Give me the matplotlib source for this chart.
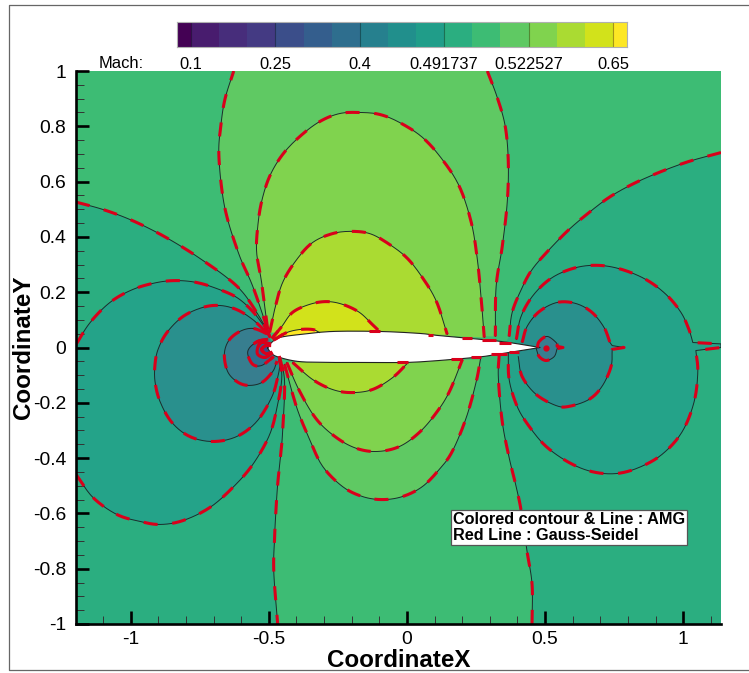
import numpy as np
import matplotlib
matplotlib.use('Agg')
import matplotlib.pyplot as plt
from matplotlib.colors import ListedColormap
from matplotlib.lines import Line2D

plt.rcParams['font.family'] = ['Liberation Sans', 'DejaVu Sans']

# colorbar
band_colors = ['#440154', '#481c6e', '#472d7b', '#443a83', '#3b4e8a', '#345e8d', '#2e6e8e', '#26808e',
               '#218f8c', '#209d89', '#2bae80', '#3dbc74', '#5fc963', '#80d34e', '#aadb32', '#d2e21b', '#fde725']
band_edges = [0, 0.5, 1.5, 2.5, 3.5, 4.5, 5.5, 6.5, 7.5, 8.5, 9.5, 10.5, 11.5, 12.5, 13.5, 14.5, 15.5, 16]
bar_ticks = [0.5, 3.5, 6.5, 9.5, 12.5, 15.5]
bar_labels = ['0.1', '0.25', '0.4', '0.491737', '0.522527', '0.65']

# ticks
x_major = [-1, -0.5, 0, 0.5, 1]
x_labels = ['-1', '-0.5', '0', '0.5', '1']
y_major = [-1, -0.8, -0.6, -0.4, -0.2, 0, 0.2, 0.4, 0.6, 0.8, 1]
y_labels = ['-1', '-0.8', '-0.6', '-0.4', '-0.2', '0', '0.2', '0.4', '0.6', '0.8', '1']

# airfoil surface
foil_up_x = [-0.504, -0.490, -0.461, -0.388, -0.269, -0.099, 0.045, 0.117, 0.273, 0.370, 0.482]
foil_up_y = [-0.002, 0.018, 0.036, 0.047, 0.058, 0.058, 0.051, 0.043, 0.029, 0.018, 0.0]
foil_lo_x = [0.482, 0.370, 0.273, 0.117, -0.002, -0.146, -0.269, -0.388, -0.461, -0.490, -0.504]
foil_lo_y = [0.0, -0.018, -0.033, -0.047, -0.054, -0.054, -0.054, -0.051, -0.036, -0.022, -0.002]

# left side contours
c1_x = [-1.198, -1.100, -1.003, -0.905, -0.811, -0.739, -0.652, -0.594, -0.544, -0.508, -0.497]
c1_y = [0.526, 0.499, 0.463, 0.416, 0.362, 0.315, 0.253, 0.199, 0.127, 0.065, 0.040]
bl_x = [-0.461, -0.443, -0.450, -0.457, -0.468, -0.475, -0.479, -0.482, -0.468]
bl_y = [-0.036, -0.123, -0.304, -0.387, -0.496, -0.604, -0.687, -0.810, -1.0]
c2_up_x = [-1.198, -1.147, -1.075, -0.992, -0.905, -0.833, -0.761, -0.688, -0.616, -0.558, -0.508]
c2_up_y = [0.011, 0.090, 0.163, 0.210, 0.235, 0.242, 0.235, 0.213, 0.181, 0.130, 0.065]
c2_lo_x = [-1.198, -1.136, -1.050, -0.966, -0.894, -0.811, -0.714, -0.630, -0.558, -0.497, -0.468, -0.453, -0.461]
c2_lo_y = [-0.459, -0.543, -0.604, -0.629, -0.640, -0.626, -0.579, -0.506, -0.423, -0.315, -0.206, -0.109, -0.043]
c3_x = [-0.508, -0.558, -0.616, -0.677, -0.739, -0.811, -0.869, -0.901, -0.912, -0.912, -0.894, -0.851,
        -0.786, -0.703, -0.616, -0.544, -0.490, -0.468, -0.457]
c3_y = [0.054, 0.101, 0.137, 0.152, 0.145, 0.112, 0.054, -0.007, -0.061, -0.123, -0.195, -0.271,
        -0.322, -0.340, -0.322, -0.268, -0.181, -0.109, -0.051]
c4_x = [-0.508, -0.558, -0.605, -0.645, -0.661, -0.649, -0.616, -0.576, -0.526, -0.486, -0.472]
c4_y = [0.051, 0.069, 0.058, 0.025, -0.025, -0.087, -0.123, -0.137, -0.127, -0.087, -0.054]
c5_x = [-0.508, -0.540, -0.569, -0.576, -0.558, -0.526, -0.486]
c5_y = [0.029, 0.022, 0.0, -0.025, -0.061, -0.065, -0.036]
c6_x = [-0.497, -0.526, -0.540, -0.540, -0.515, -0.490]
c6_y = [0.014, 0.018, 0.0, -0.025, -0.036, -0.022]
c7_x = [-0.497, -0.511, -0.526, -0.511, -0.493]
c7_y = [0.007, 0.007, -0.007, -0.022, -0.018]

# upper lobes
u1_x = [-0.479, -0.435, -0.388, -0.341, -0.316]
u1_y = [0.029, 0.054, 0.065, 0.065, 0.054]
u2_x = [-0.486, -0.453, -0.414, -0.352, -0.291, -0.233, -0.172, -0.125, -0.099]
u2_y = [0.036, 0.076, 0.127, 0.156, 0.166, 0.156, 0.127, 0.083, 0.058]
u3_x = [-0.497, -0.479, -0.450, -0.399, -0.341, -0.269, -0.201, -0.135, -0.074, -0.002, 0.056, 0.107, 0.146]
u3_y = [0.054, 0.137, 0.235, 0.318, 0.380, 0.412, 0.420, 0.412, 0.380, 0.326, 0.253, 0.166, 0.047]
u4_x = [-0.504, -0.526, -0.544, -0.540, -0.526, -0.497, -0.450, -0.388, -0.316, -0.244, -0.172, -0.099,
        -0.027, 0.056, 0.128, 0.190, 0.233, 0.255, 0.269, 0.280]
u4_y = [0.065, 0.235, 0.344, 0.438, 0.528, 0.619, 0.698, 0.763, 0.817, 0.846, 0.850, 0.843,
        0.814, 0.760, 0.680, 0.582, 0.452, 0.318, 0.174, 0.036]
u5_left_x = [-0.504, -0.558, -0.605, -0.649, -0.670, -0.681, -0.674, -0.659, -0.627]
u5_left_y = [0.065, 0.221, 0.329, 0.463, 0.571, 0.705, 0.799, 0.897, 1.0]
u5_right_x = [0.291, 0.327, 0.356, 0.367, 0.363, 0.345, 0.323, 0.320]
u5_right_y = [1.0, 0.904, 0.799, 0.669, 0.524, 0.365, 0.221, 0.040]

# lower lobes
l1_x = [-0.414, -0.341, -0.269, -0.201, -0.125, -0.052, 0.005]
l1_y = [-0.054, -0.116, -0.152, -0.163, -0.152, -0.109, -0.054]
l2_x = [-0.435, -0.388, -0.327, -0.255, -0.182, -0.107, -0.027, 0.045, 0.107, 0.154, 0.201]
l2_y = [-0.054, -0.159, -0.260, -0.326, -0.365, -0.376, -0.358, -0.307, -0.235, -0.159, -0.043]
l3_x = [-0.443, -0.399, -0.352, -0.305, -0.233, -0.161, -0.089, -0.016, 0.056, 0.117, 0.164, 0.215, 0.251, 0.266]
l3_y = [-0.061, -0.217, -0.333, -0.430, -0.503, -0.539, -0.550, -0.539, -0.503, -0.441, -0.376, -0.253, -0.123, -0.043]
br_x = [0.334, 0.331, 0.345, 0.370, 0.396, 0.414, 0.435, 0.453, 0.453]
br_y = [-0.025, -0.109, -0.268, -0.398, -0.506, -0.593, -0.738, -0.857, -1.0]

# right side contours
r1_x = [1.137, 1.021, 0.912, 0.815, 0.732, 0.659, 0.587, 0.515, 0.453, 0.414, 0.381, 0.370]
r1_y = [0.705, 0.673, 0.633, 0.590, 0.543, 0.488, 0.427, 0.354, 0.282, 0.210, 0.127, 0.040]
r2_up_x = [0.396, 0.413, 0.458, 0.526, 0.612, 0.696, 0.779, 0.865, 0.938, 0.992, 1.021, 1.035]
r2_up_y = [0.029, 0.112, 0.190, 0.253, 0.289, 0.297, 0.282, 0.246, 0.192, 0.127, 0.065, 0.018]
r2_tip_x = [1.035, 1.137, 1.137, 1.046]
r2_tip_y = [0.018, 0.013, 0.0, -0.011]
r2_lo_x = [1.046, 1.053, 1.039, 0.995, 0.923, 0.840, 0.757, 0.670, 0.587, 0.504, 0.443, 0.399, 0.370, 0.367]
r2_lo_y = [-0.011, -0.090, -0.199, -0.307, -0.387, -0.434, -0.456, -0.449, -0.416, -0.358, -0.286, -0.213, -0.116, -0.018]
r3_up_x = [0.417, 0.435, 0.479, 0.544, 0.612, 0.670, 0.714, 0.735]
r3_up_y = [0.018, 0.076, 0.130, 0.163, 0.159, 0.127, 0.072, 0.018]
r3_tip_x = [0.735, 0.743, 0.786, 0.743]
r3_tip_y = [0.018, 0.007, 0.0, -0.007]
r3_lo_x = [0.743, 0.739, 0.706, 0.659, 0.587, 0.540, 0.468, 0.417, 0.403]
r3_lo_y = [-0.007, -0.069, -0.141, -0.188, -0.213, -0.210, -0.170, -0.105, -0.033]
r4_up_x = [0.472, 0.479, 0.508, 0.540, 0.544]
r4_up_y = [0.0, 0.022, 0.040, 0.018, 0.004]
r4_tip_x = [0.544, 0.565, 0.544]
r4_tip_y = [0.004, 0.0, -0.004]
r4_lo_x = [0.544, 0.533, 0.504, 0.479, 0.468]
r4_lo_y = [-0.004, -0.033, -0.047, -0.033, -0.004]

# red dashes lying on the surface: x start, x end, y
surf_dash_x0 = [-0.136, 0.075, 0.201, 0.273, 0.334, -0.036, 0.161, 0.233, 0.305, 0.370]
surf_dash_x1 = [-0.099, 0.096, 0.237, 0.323, 0.378, 0.005, 0.201, 0.269, 0.363, 0.406]
surf_dash_y = [0.058, 0.047, 0.033, 0.026, 0.016, -0.054, -0.043, -0.036, -0.025, -0.016]

RED = '#d9001b'
LE_X, LE_Y = -0.49, 0.0


def smooth(x, y, n=12):
    # catmull-rom through the points
    p = np.column_stack([x, y])
    p = np.vstack([2 * p[0] - p[1], p, 2 * p[-1] - p[-2]])
    out = []
    for i in range(1, len(p) - 2):
        t = np.linspace(0, 1, n, endpoint=False)[:, None]
        a, b, c, d = p[i - 1], p[i], p[i + 1], p[i + 2]
        out.append(0.5 * (2 * b + (c - a) * t + (2 * a - 5 * b + 4 * c - d) * t ** 2
                          + (3 * b - a - 3 * c + d) * t ** 3))
    out.append(p[-2][None, :])
    return np.vstack(out)


def line(ax, pts):
    ax.plot(pts[:, 0], pts[:, 1], color='#1c2b2b', lw=0.7, zorder=5)
    ax.plot(pts[:, 0], pts[:, 1], color=RED, lw=2.2, zorder=6,
            ls=(0, (4.6, 4.8)), dash_capstyle='butt')
    # the lines crowd together at the leading edge, the dashes merge there
    near = np.hypot(pts[:, 0] - LE_X, pts[:, 1] - LE_Y) < 0.06
    ax.plot(np.where(near, pts[:, 0], np.nan), np.where(near, pts[:, 1], np.nan), color=RED, lw=2.2, zorder=6)


fig = plt.figure(figsize=(7.49, 6.73), dpi=100)
ax = fig.add_axes([76 / 749, 49 / 673, 645 / 749, 553 / 673])
ax.set_xlim(-1.198, 1.137)
ax.set_ylim(-1, 1)
ax.set_facecolor(band_colors[11])

c1 = smooth(c1_x, c1_y)
bl = smooth(bl_x, bl_y)
c2_up = smooth(c2_up_x, c2_up_y)
c2_lo = smooth(c2_lo_x, c2_lo_y)
c3 = smooth(c3_x, c3_y)
c4 = smooth(c4_x, c4_y)
c5 = smooth(c5_x, c5_y)
c6 = smooth(c6_x, c6_y)
c7 = smooth(c7_x, c7_y)
u1 = smooth(u1_x, u1_y)
u2 = smooth(u2_x, u2_y)
u3 = smooth(u3_x, u3_y)
u4 = smooth(u4_x, u4_y)
u5_l = smooth(u5_left_x, u5_left_y)
u5_r = smooth(u5_right_x, u5_right_y)
l1 = smooth(l1_x, l1_y)
l2 = smooth(l2_x, l2_y)
l3 = smooth(l3_x, l3_y)
br = smooth(br_x, br_y)
r1 = smooth(r1_x, r1_y)
r2 = np.vstack([smooth(r2_up_x, r2_up_y), np.column_stack([r2_tip_x, r2_tip_y]), smooth(r2_lo_x, r2_lo_y)])
r3 = np.vstack([smooth(r3_up_x, r3_up_y), np.column_stack([r3_tip_x, r3_tip_y]), smooth(r3_lo_x, r3_lo_y)])
r4 = np.vstack([smooth(r4_up_x, r4_up_y), np.column_stack([r4_tip_x, r4_tip_y]), smooth(r4_lo_x, r4_lo_y)])
foil = np.vstack([smooth(foil_up_x, foil_up_y), smooth(foil_lo_x, foil_lo_y)])

xl, xr = ax.get_xlim()
corners_l = np.array([[xl, -1], [xl, c1_y[0]]])
corners_r = np.array([[xr, -1], [xr, r1_y[0]]])

# filled bands, outer ones first
fills = [
    (np.vstack([c1, bl, corners_l]), '#2bae80'),
    (np.vstack([r1, br, corners_r]), '#2bae80'),
    (np.vstack([c2_up, c2_lo[::-1]]), '#24a389'),
    (c3, '#29908d'),
    (c4, '#377e8f'),
    (c5, band_colors[6]),
    (c6, band_colors[5]),
    (c7, band_colors[4]),
    (np.vstack([u5_l, u5_r]), band_colors[12]),
    (l3, band_colors[12]),
    (u4, band_colors[13]),
    (l2, band_colors[13]),
    (u3, band_colors[14]),
    (l1, band_colors[14]),
    (u2, band_colors[15]),
    (u1, band_colors[16]),
    (r2, '#24a389'),
    (r3, '#29908d'),
    (r4, '#377e8f'),
]
for pts, col in fills:
    ax.fill(pts[:, 0], pts[:, 1], color=col, lw=0, zorder=2)

ax.fill(foil[:, 0], foil[:, 1], color='white', lw=0, zorder=3)
ax.plot(foil[:, 0], foil[:, 1], color='#222222', lw=0.8, zorder=5)

for pts in [c1, bl, c2_up, c2_lo, c3, c4, c5, c6, c7, u1, u2, u3, u4, u5_l, u5_r, l1, l2, l3, br, r1, r2, r3, r4]:
    line(ax, pts)

ax.hlines(surf_dash_y, surf_dash_x0, surf_dash_x1, color=RED, lw=2.2, zorder=6)
ax.plot([0.502], [0.0], 'o', color=RED, ms=3.5, zorder=7)

# axes
for side in ['top', 'right']:
    ax.spines[side].set_visible(False)
for side in ['left', 'bottom']:
    ax.spines[side].set_linewidth(1.9)
    ax.spines[side].set_zorder(10)
ax.set_axisbelow(False)
ax.set_xticks(x_major)
ax.set_xticklabels(x_labels)
ax.set_yticks(y_major)
ax.set_yticklabels(y_labels)
ax.set_xticks([v / 10 for v in range(-11, 12) if v % 5], minor=True)
ax.set_yticks([v / 20 for v in range(-20, 21) if v % 4], minor=True)
ax.tick_params(which='major', direction='in', length=9.5, width=1.9, labelsize=13.9)
ax.tick_params(axis='x', which='major', pad=5)
ax.tick_params(axis='y', which='major', pad=7)
ax.tick_params(which='minor', direction='in', length=5.5, width=0.7, color='#333333')
ax.set_xlabel('CoordinateX', fontsize=17.4, fontweight='bold', labelpad=1)
ax.set_ylabel('CoordinateY', fontsize=17.4, fontweight='bold', labelpad=-1.5)

# colorbar
cax = fig.add_axes([177 / 749, (673 - 47) / 673, 450 / 749, 25 / 673])
cax.pcolormesh(band_edges, [0, 1], [np.arange(len(band_colors))], cmap=ListedColormap(band_colors),
               vmin=-0.5, vmax=len(band_colors) - 0.5)
cax.vlines(bar_ticks, 0, 1, color='black', alpha=0.35, lw=0.8)
cax.set_xlim(0, 16)
cax.set_ylim(0, 1)
cax.set_yticks([])
cax.set_xticks(bar_ticks)
cax.set_xticklabels(bar_labels, fontsize=11.9)
cax.tick_params(axis='x', length=0, pad=7)
for s in cax.spines.values():
    s.set_color('#b0b0b0')
    s.set_linewidth(0.8)
fig.text(99 / 749, 1 - 63 / 673, 'Mach:', fontsize=11.9, va='center', ha='left')

fig.text(453 / 749, 1 - 527.5 / 673, 'Colored contour & Line : AMG\nRed Line : Gauss-Seidel', fontsize=11.7,
         fontweight='bold', va='center', ha='left', linespacing=1.08, zorder=20,
         bbox=dict(facecolor='white', edgecolor='#555555', lw=0.9, boxstyle='square,pad=0.12'))

# outer frame: left, top and bottom only, it runs off the right side
fig.add_artist(Line2D([749 / 749, 8.5 / 749, 8.5 / 749, 749 / 749],
                      [1 - 4.5 / 673, 1 - 4.5 / 673, 1 - 670 / 673, 1 - 670 / 673],
                      color='#666666', lw=0.9, transform=fig.transFigure))

fig.savefig('out.png', dpi=100)
